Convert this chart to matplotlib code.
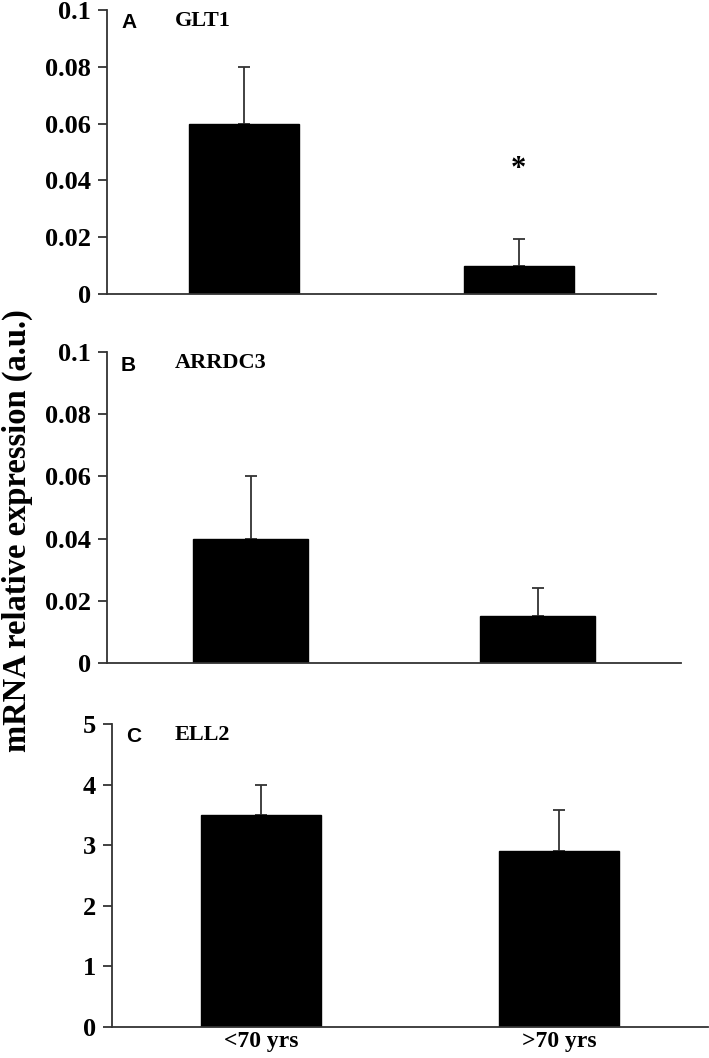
import matplotlib
matplotlib.use("Agg")
import matplotlib.pyplot as plt

groups = ["<70 yrs", ">70 yrs"]
panelLetters = ["A", "B", "C"]
genes = ["GLT1", "ARRDC3", "ELL2"]
glt1 = [0.06, 0.01]
glt1Err = [0.02, 0.0095]
arrdc3 = [0.04, 0.015]
arrdc3Err = [0.02, 0.009]
ell2 = [3.5, 2.9]
ell2Err = [0.5, 0.68]
yMax = [0.1, 0.1, 5]
yTicks = [[0, 0.02, 0.04, 0.06, 0.08, 0.1],
          [0, 0.02, 0.04, 0.06, 0.08, 0.1],
          [0, 1, 2, 3, 4, 5]]
yTickLabels = [["0", "0.02", "0.04", "0.06", "0.08", "0.1"],
               ["0", "0.02", "0.04", "0.06", "0.08", "0.1"],
               ["0", "1", "2", "3", "4", "5"]]

serif = "Liberation Serif"
sans = "Liberation Sans"
lineColor = "#333333"

W, H = 709, 1058
fig = plt.figure(figsize=(W / 100, H / 100), dpi=100)

# axes boxes in pixels: left, top, right, bottom
boxes = [(107, 10, 656, 294), (107, 352, 681, 663), (112, 724, 708, 1027)]
values = [glt1, arrdc3, ell2]
errors = [glt1Err, arrdc3Err, ell2Err]

for i in range(3):
    l, t, r, b = boxes[i]
    ax = fig.add_axes([l / W, 1 - b / H, (r - l) / W, (b - t) / H])
    x = range(len(groups))
    ax.bar(x, values[i], width=0.4, color="black", edgecolor="black", zorder=2)
    ax.errorbar(x, values[i], yerr=[[0, 0], errors[i]], fmt="none", ecolor=lineColor,
                elinewidth=1.3, capsize=4.5, capthick=1.3, zorder=1)
    ax.set_xlim(-0.5, 1.5)
    ax.set_ylim(0, yMax[i])
    ax.set_yticks(yTicks[i])
    ax.set_yticklabels(yTickLabels[i], fontfamily=serif, fontweight="bold", fontsize=19)
    for s in ["top", "right"]:
        ax.spines[s].set_visible(False)
    for s in ["left", "bottom"]:
        ax.spines[s].set_color(lineColor)
        ax.spines[s].set_linewidth(1.3)
    ax.tick_params(axis="y", direction="out", length=6.5, width=1.3, color=lineColor, pad=5)
    if i == 2:
        ax.set_xticks(list(x))
        ax.set_xticklabels(groups, fontfamily=serif, fontweight="bold", fontsize=17)
        ax.tick_params(axis="x", length=0, pad=3)
    else:
        ax.set_xticks([])

    # panel letter and gene name
    fig.text((l + 14) / W, 1 - (t + 13) / H, panelLetters[i], fontfamily=sans,
             fontweight="bold", fontsize=15, va="center", ha="left")
    fig.text(175 / W, 1 - (t + 11) / H, genes[i], fontfamily=serif,
             fontweight="bold", fontsize=16, va="center", ha="left")
    if i == 0:
        ax.text(1, 0.044, "*", fontfamily=serif, fontweight="bold", fontsize=22,
                ha="center", va="center")

fig.text(17 / W, 1 - 531 / H, "mRNA relative expression (a.u.)", rotation=90,
         fontfamily=serif, fontweight="bold", fontsize=23.5, ha="center", va="center")

fig.savefig("out.png", dpi=100)
